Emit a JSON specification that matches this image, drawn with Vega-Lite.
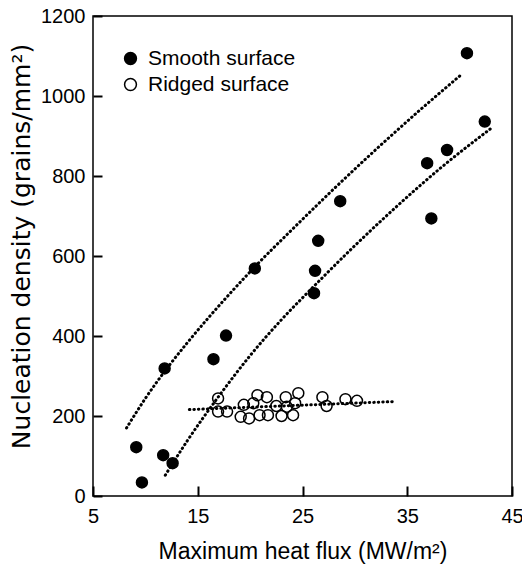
{
  "$schema": "https://vega.github.io/schema/vega-lite/v6.json",
  "width": 419,
  "height": 480,
  "autosize": {"type": "none"},
  "padding": {"left": 93, "top": 16, "right": 10, "bottom": 71},
  "background": "white",
  "config": {
    "view": {"stroke": "black", "strokeWidth": 1.5},
    "font": "Liberation Sans",
    "axis": {
      "grid": false,
      "domain": false,
      "ticks": true,
      "tickColor": "black",
      "tickWidth": 2,
      "labelColor": "black",
      "titleColor": "black",
      "labelFont": "Liberation Sans",
      "titleFont": "Liberation Sans",
      "labelFontSize": 20,
      "titleFontSize": 23,
      "titleFontWeight": "normal",
      "labelFlush": false,
      "labelOverlap": false
    }
  },
  "datasets": {
    "points": [
      {"surface": "Smooth surface", "x": 40.7, "y": 1107},
      {"surface": "Smooth surface", "x": 42.4, "y": 936},
      {"surface": "Smooth surface", "x": 38.8, "y": 865},
      {"surface": "Smooth surface", "x": 36.9, "y": 832},
      {"surface": "Smooth surface", "x": 37.3, "y": 694},
      {"surface": "Smooth surface", "x": 28.6, "y": 737},
      {"surface": "Smooth surface", "x": 26.5, "y": 638},
      {"surface": "Smooth surface", "x": 26.2, "y": 563},
      {"surface": "Smooth surface", "x": 26.1, "y": 507},
      {"surface": "Smooth surface", "x": 20.45, "y": 569},
      {"surface": "Smooth surface", "x": 17.7, "y": 401},
      {"surface": "Smooth surface", "x": 16.5, "y": 342},
      {"surface": "Smooth surface", "x": 11.84, "y": 319},
      {"surface": "Smooth surface", "x": 9.13, "y": 122},
      {"surface": "Smooth surface", "x": 11.7, "y": 102},
      {"surface": "Smooth surface", "x": 12.6, "y": 82},
      {"surface": "Smooth surface", "x": 9.67, "y": 34},
      {"surface": "Ridged surface", "x": 16.94, "y": 244},
      {"surface": "Ridged surface", "x": 16.94, "y": 211},
      {"surface": "Ridged surface", "x": 17.8, "y": 211},
      {"surface": "Ridged surface", "x": 19.4, "y": 228},
      {"surface": "Ridged surface", "x": 19.1, "y": 198},
      {"surface": "Ridged surface", "x": 19.9, "y": 194},
      {"surface": "Ridged surface", "x": 20.3, "y": 232},
      {"surface": "Ridged surface", "x": 20.7, "y": 252},
      {"surface": "Ridged surface", "x": 20.9, "y": 202},
      {"surface": "Ridged surface", "x": 21.6, "y": 247},
      {"surface": "Ridged surface", "x": 21.7, "y": 202},
      {"surface": "Ridged surface", "x": 22.5, "y": 225},
      {"surface": "Ridged surface", "x": 23.0, "y": 200},
      {"surface": "Ridged surface", "x": 23.4, "y": 247},
      {"surface": "Ridged surface", "x": 23.5, "y": 223},
      {"surface": "Ridged surface", "x": 24.1, "y": 202},
      {"surface": "Ridged surface", "x": 24.3, "y": 232},
      {"surface": "Ridged surface", "x": 24.6, "y": 257},
      {"surface": "Ridged surface", "x": 26.9, "y": 247},
      {"surface": "Ridged surface", "x": 27.3, "y": 225},
      {"surface": "Ridged surface", "x": 29.1, "y": 242},
      {"surface": "Ridged surface", "x": 30.2, "y": 238}
    ],
    "fits": [
      {"fit": "upper", "x": 8.2, "y": 170},
      {"fit": "upper", "x": 10, "y": 244},
      {"fit": "upper", "x": 12, "y": 317},
      {"fit": "upper", "x": 14, "y": 383},
      {"fit": "upper", "x": 16, "y": 445},
      {"fit": "upper", "x": 18, "y": 504},
      {"fit": "upper", "x": 20.45, "y": 573},
      {"fit": "upper", "x": 24, "y": 666},
      {"fit": "upper", "x": 28, "y": 768},
      {"fit": "upper", "x": 32, "y": 866},
      {"fit": "upper", "x": 36, "y": 960},
      {"fit": "upper", "x": 40.1, "y": 1052},
      {"fit": "lower", "x": 11.9, "y": 52},
      {"fit": "lower", "x": 14, "y": 138},
      {"fit": "lower", "x": 17, "y": 249},
      {"fit": "lower", "x": 20, "y": 351},
      {"fit": "lower", "x": 23, "y": 441},
      {"fit": "lower", "x": 26, "y": 522},
      {"fit": "lower", "x": 30, "y": 626},
      {"fit": "lower", "x": 34, "y": 724},
      {"fit": "lower", "x": 38, "y": 816},
      {"fit": "lower", "x": 43.1, "y": 921},
      {"fit": "ridged", "x": 14.2, "y": 216},
      {"fit": "ridged", "x": 33.7, "y": 236}
    ]
  },
  "encoding": {
    "x": {
      "field": "x",
      "type": "quantitative",
      "scale": {"domain": [5, 45], "nice": false, "zero": false},
      "axis": {
        "title": "Maximum heat flux (MW/m²)",
        "values": [5, 15, 25, 35, 45],
        "offset": -10,
        "tickSize": 10,
        "labelPadding": 10,
        "titleY": 72,
        "titleBaseline": "alphabetic"
      }
    },
    "y": {
      "field": "y",
      "type": "quantitative",
      "scale": {"domain": [0, 1200], "nice": false},
      "axis": {
        "title": "Nucleation density (grains/mm²)",
        "values": [0, 200, 400, 600, 800, 1000, 1200],
        "format": "d",
        "offset": -9,
        "tickSize": 9,
        "labelPadding": 8,
        "titleFont": "DejaVu Sans",
        "titleFontSize": 25,
        "titleX": -73,
        "titleY": 230,
        "titleAngle": -90,
        "titleAlign": "center",
        "titleBaseline": "alphabetic"
      }
    }
  },
  "layer": [
    {
      "data": {"name": "fits"},
      "mark": {
        "type": "line",
        "color": "black",
        "strokeWidth": 3,
        "strokeDash": [0.5, 4],
        "strokeCap": "round",
        "interpolate": "monotone"
      },
      "encoding": {"detail": {"field": "fit"}}
    },
    {
      "data": {"name": "points"},
      "mark": {
        "type": "point",
        "shape": "circle",
        "filled": true,
        "size": 120,
        "stroke": "black",
        "strokeWidth": 1.5,
        "opacity": 1
      },
      "encoding": {
        "fill": {
          "field": "surface",
          "type": "nominal",
          "scale": {"domain": ["Smooth surface", "Ridged surface"], "range": ["black", "transparent"]},
          "legend": {
            "title": null,
            "orient": "none",
            "legendX": 27,
            "legendY": 32,
            "padding": 0,
            "symbolType": "circle",
            "symbolSize": 140,
            "symbolStrokeColor": "black",
            "symbolStrokeWidth": 1.5,
            "labelFontSize": 21,
            "labelColor": "black",
            "labelFont": "Liberation Sans",
            "labelOffset": 7,
            "rowPadding": 4
          }
        }
      }
    }
  ]
}
